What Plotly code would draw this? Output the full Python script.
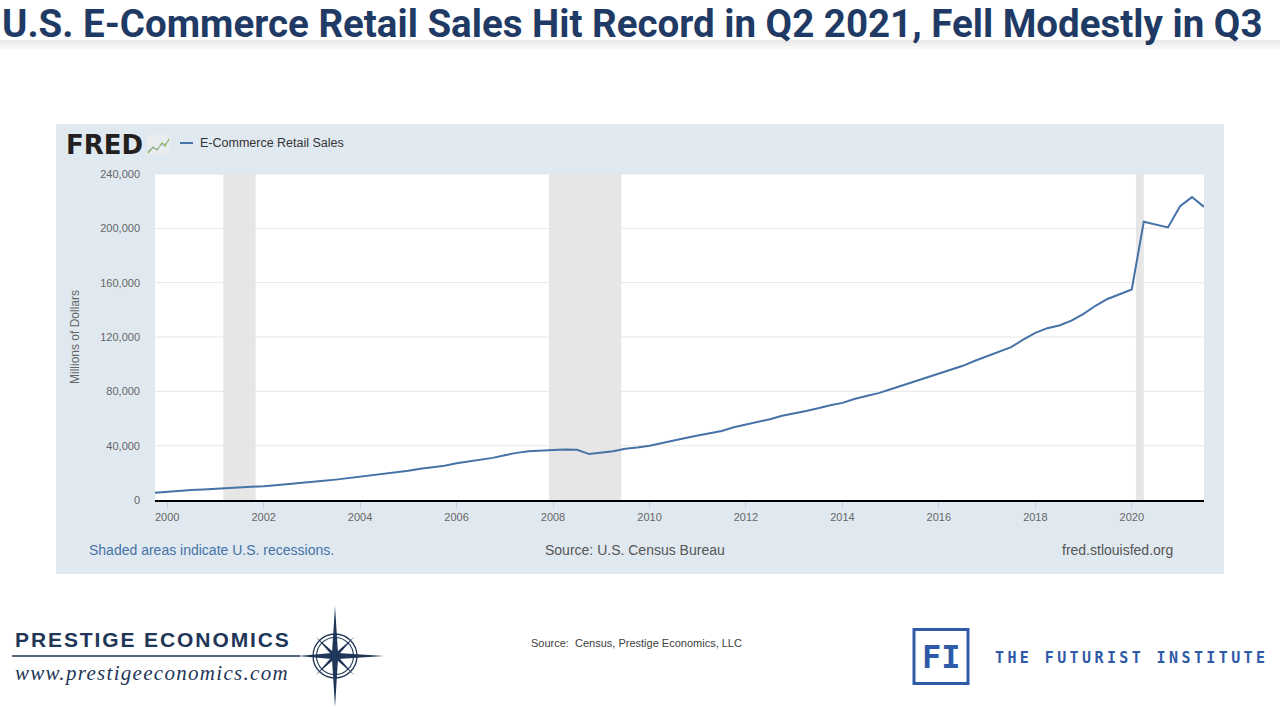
import plotly.graph_objects as go
import pandas as pd
import math

W, H = 1280, 709
PL, PR, PT, PB = 155, 1204, 174, 500


def X(px):
    return (px - PL) / (PR - PL)


def Y(py):
    return (PB - py) / (PB - PT)


# ---------------- data ----------------
first_quarter = "1999-10-01"
ecommerce_sales = [
    5400,
    6200, 6800, 7300, 7800,
    8300, 8700, 8800, 9600,
    10200, 10900, 11600, 12300,
    13100, 14100, 15000, 16100,
    17000, 18000, 19100, 20200,
    21500, 23000, 24200, 25200,
    27000, 28200, 29500, 31000,
    33000, 34700, 35800, 36600,
    36900, 37200, 37000, 33800,
    34800, 35900, 37800, 38600,
    40000, 42000, 43700, 45700,
    47500, 49200, 50800, 53500,
    55500, 57000, 59500, 62000,
    63500, 65500, 67500, 69800,
    71500, 74300, 76500, 78700,
    81500, 84300, 87300, 90300,
    93000, 95500, 98800, 102500,
    106000, 109500, 112500, 118000,
    123000, 126500, 128500, 132000,
    137000, 143000, 148000, 151500,
    155000, 204900, 202800, 200700,
    216300, 223000, 215800,
]
quarters = pd.date_range(first_quarter, periods=len(ecommerce_sales), freq="QS")

recession_starts = ["2001-03-01", "2007-12-01", "2020-02-01"]
recession_ends = ["2001-11-01", "2009-06-01", "2020-04-01"]

y_tick_values = [0, 40000, 80000, 120000, 160000, 200000, 240000]
x_tick_years = [2000, 2002, 2004, 2006, 2008, 2010, 2012, 2014, 2016, 2018, 2020]

# ---------------- colours ----------------
PANEL = "#E1E9F0"
LINE = "#4572A7"
NAVY = "#1F3658"
TITLE = "#1F3A64"
FI_BLUE = "#2E5AA8"
REC = "#E6E6E6"
GRID = "#E6E6E6"

fig = go.Figure()
fig.add_trace(go.Scatter(
    x=quarters, y=ecommerce_sales, mode="lines",
    line=dict(color=LINE, width=2), name="E-Commerce Retail Sales",
    hoverinfo="x+y",
))

shapes = []


def prect(x0, y0, x1, y1, fill, line_color=None, lw=0):
    shapes.append(dict(type="rect", xref="paper", yref="paper",
                       x0=X(x0), x1=X(x1), y0=Y(y1), y1=Y(y0),
                       fillcolor=fill, layer="below",
                       line=dict(width=lw, color=line_color or fill)))


def pline(x0, y0, x1, y1, color, lw):
    shapes.append(dict(type="line", xref="paper", yref="paper",
                       x0=X(x0), x1=X(x1), y0=Y(y0), y1=Y(y1),
                       layer="below", line=dict(color=color, width=lw)))


def ppath(points, fill=None, color=None, lw=0, closed=True):
    d = "M " + " L ".join(f"{X(a):.5f},{Y(b):.5f}" for a, b in points)
    if closed:
        d += " Z"
    shp = dict(type="path", xref="paper", yref="paper", path=d, layer="below",
               line=dict(color=color or "rgba(0,0,0,0)", width=lw))
    if fill:
        shp["fillcolor"] = fill
    shapes.append(shp)


def pcircle(cx, cy, r, color, lw):
    shapes.append(dict(type="circle", xref="paper", yref="paper",
                       x0=X(cx - r), x1=X(cx + r), y0=Y(cy + r), y1=Y(cy - r),
                       layer="below", line=dict(color=color, width=lw)))


# title shadow band
prect(0, 40, 1280, 43, "#EAEAEA")
prect(0, 43, 1280, 46, "#F1F1F1")
prect(0, 46, 1280, 49, "#F8F8F8")

# FRED panel and plot area
prect(56, 124, 1224, 574, PANEL)
prect(PL, PT, PR, PB, "#FFFFFF")

# gridlines
for v in y_tick_values[1:]:
    shapes.append(dict(type="line", xref="paper", yref="y", x0=0, x1=1, y0=v, y1=v,
                       layer="below", line=dict(color=GRID, width=1)))

# recession bands
for s, e in zip(recession_starts, recession_ends):
    shapes.append(dict(type="rect", xref="x", yref="paper", x0=s, x1=e, y0=0, y1=1,
                       fillcolor=REC, layer="below", line=dict(width=0)))

# legend swatch
pline(180, 143, 193, 143, LINE, 2)

# FRED small chart icon
prect(147, 135, 170, 155, "#E9EDF0")
ppath([(148, 153), (153, 147), (157, 150), (162, 143), (165, 146), (169, 139)],
      color="#8CB04A", lw=1.2, closed=False)
ppath([(148, 151), (152, 148), (157, 149), (161, 145), (165, 144), (169, 141)],
      color="#9FB7CF", lw=1.0, closed=False)

# Prestige Economics compass logo
cx, cy = 335, 656
pline(12, cy, 300, cy, NAVY, 1.6)
ppath([(cx, 606), (cx + 3, cy - 3), (384, cy), (cx + 3, cy + 3),
       (cx, 707), (cx - 3, cy + 3), (298, cy), (cx - 3, cy - 3)], fill=NAVY)
diag = []
for k in range(8):
    ang = math.radians(45 * k + 45)
    rr = 27 if k % 2 == 0 else 2.5
    diag.append((cx + rr * math.cos(ang), cy - rr * math.sin(ang)))
ppath(diag, fill=NAVY)
pcircle(cx, cy, 22, NAVY, 1.3)
pcircle(cx, cy, 18.5, NAVY, 1.1)

# Futurist Institute square
prect(914, 629.5, 968, 683.5, "rgba(0,0,0,0)", FI_BLUE, 3)

annotations = []


def ann(text, px, py, size, color, family="Liberation Sans, Arial, sans-serif",
        xanchor="left", yanchor="middle", weight="normal", angle=0, style=None,
        borderpad=1):
    annotations.append(dict(
        text=text, x=X(px), y=Y(py), xref="paper", yref="paper",
        xanchor=xanchor, yanchor=yanchor, showarrow=False, textangle=angle,
        borderpad=borderpad,
        font=dict(size=size, color=color, family=family, weight=weight,
                  style=style or "normal"),
    ))


ann("U.S. E-Commerce Retail Sales Hit Record in Q2 2021, Fell Modestly in Q3",
    1, 0, 38.5, TITLE, family="Roboto, sans-serif", weight="bold",
    yanchor="top", borderpad=0)
ann("FRED", 64, 145, 26, "#231F20", family="DejaVu Sans, sans-serif", weight="bold")
ann("E-Commerce Retail Sales", 198, 143, 12.5, "#333333")
ann("Millions of Dollars", 75, 337, 12, "#666666", xanchor="center", angle=-90)
ann("Shaded areas indicate U.S. recessions.", 87, 550, 14, "#4572A7")
ann("Source: U.S. Census Bureau", 635, 550, 14, "#555555", xanchor="center")
ann("fred.stlouisfed.org", 1175, 550, 14, "#555555", xanchor="right")

ann('<span style="letter-spacing:1.9px">PRESTIGE ECONOMICS</span>', 13, 639, 21, NAVY,
    weight="bold")
ann('<span style="letter-spacing:1.3px">www.prestigeeconomics.com</span>', 13, 673, 21,
    NAVY, family="Liberation Serif, DejaVu Serif, serif", style="italic")
ann("Source:  Census, Prestige Economics, LLC", 529, 643, 11, "#404040")
ann("FI", 941, 657, 32, FI_BLUE, family="DejaVu Sans Mono, monospace",
    xanchor="center", weight="bold")
ann('<span style="letter-spacing:3.4px">THE FUTURIST INSTITUTE</span>', 993, 658, 15,
    FI_BLUE, family="DejaVu Sans Mono, monospace", weight="bold")

fig.update_layout(
    width=W, height=H,
    margin=dict(l=PL, r=W - PR, t=PT, b=H - PB, pad=0),
    paper_bgcolor="#FFFFFF", plot_bgcolor="rgba(0,0,0,0)",
    showlegend=False,
    shapes=shapes, annotations=annotations,
    font=dict(family="Liberation Sans, Arial, sans-serif"),
    xaxis=dict(
        type="date", range=[quarters[0], quarters[-1]],
        tickvals=[f"{y}-01-01" for y in x_tick_years],
        ticktext=[str(y) for y in x_tick_years],
        ticks="outside", ticklen=6, tickcolor="#C0D0E0", tickwidth=1,
        showline=True, linecolor="#000000", linewidth=2,
        showgrid=False, zeroline=False,
        tickfont=dict(size=11, color="#666666"),
        fixedrange=True,
    ),
    yaxis=dict(
        range=[0, 240000], tickvals=y_tick_values, tickformat=",d",
        showgrid=False, zeroline=False, showline=False, ticks="",
        tickfont=dict(size=11, color="#666666"),
        ticklabelstandoff=14, fixedrange=True,
    ),
)

fig.write_html("out.html", config={"displayModeBar": False},
               post_script="document.body.style.margin='0px';document.body.style.overflow='hidden';")
